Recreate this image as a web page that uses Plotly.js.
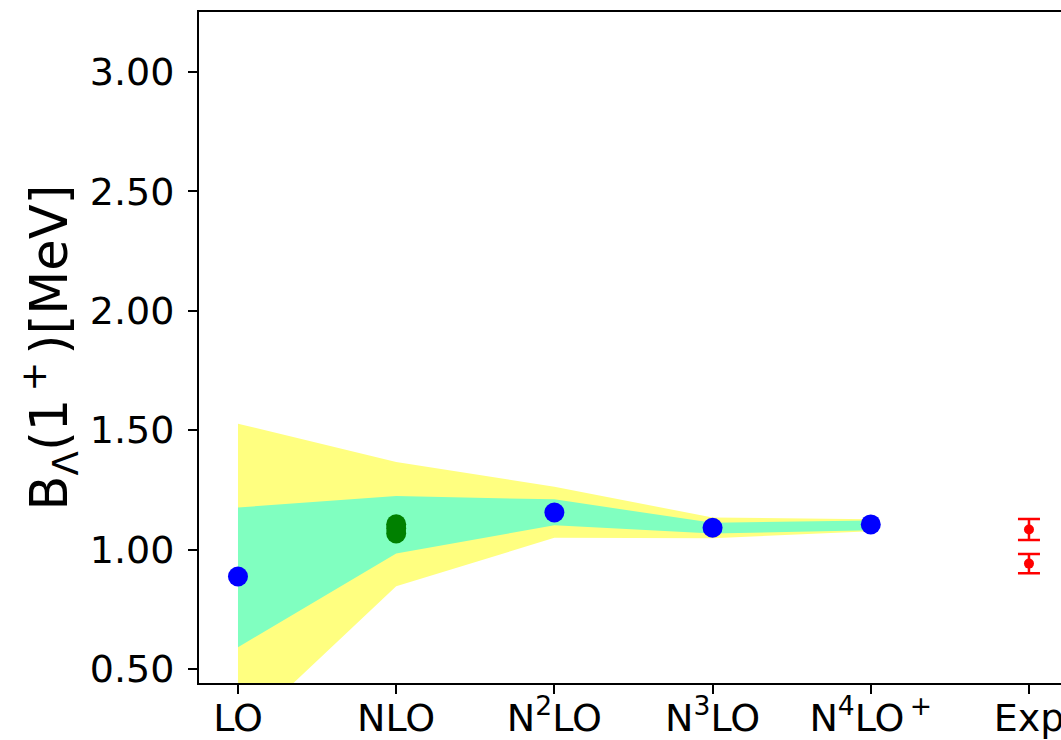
<!DOCTYPE html>
<html>
<head>
<meta charset="utf-8">
<script src="https://cdn.plot.ly/plotly-3.0.1.min.js"></script>
<style>
html, body { margin: 0; padding: 0; overflow: hidden; background: #fff; }
#chart { width: 1061px; height: 740px; }
</style>
</head>
<body>
<div id="chart"></div>
<script>
// Orders (x positions 0..5) and tick labels
const orders = [0, 1, 2, 3, 4, 5];
const orderLabels = ["LO", "NLO", "N<sup>2</sup>LO", "N<sup>3</sup>LO", "N<sup>4</sup>LO<sup>\u2009+</sup>", "Exp"];

// Uncertainty bands (LO .. N4LO+)
const bandX = [0, 1, 2, 3, 4];
const yellowUpper = [1.527, 1.366, 1.263, 1.134, 1.127];
const yellowLower = [0.222, 0.846, 1.049, 1.047, 1.077];
const greenUpper  = [1.176, 1.224, 1.210, 1.112, 1.121];
const greenLower  = [0.591, 0.983, 1.102, 1.067, 1.081];

// Blue central values
const blueX = [0, 2, 3, 4];
const blueY = [0.887, 1.155, 1.091, 1.105];

// Green NLO values
const nloX = [1, 1, 1];
const nloY = [1.106, 1.088, 1.067];

// Experimental values
const expX = [5, 5];
const expY = [1.084, 0.941];
const expErr = [0.044, 0.040];

function band(upper, lower) {
  return {
    x: bandX.concat(bandX.slice().reverse()),
    y: upper.concat(lower.slice().reverse())
  };
}

const yb = band(yellowUpper, yellowLower);
const gb = band(greenUpper, greenLower);

const traces = [
  { x: yb.x, y: yb.y, type: "scatter", mode: "lines", fill: "toself",
    fillcolor: "#ffff80", line: { width: 0, color: "rgba(0,0,0,0)" }, hoverinfo: "skip", showlegend: false },
  { x: gb.x, y: gb.y, type: "scatter", mode: "lines", fill: "toself",
    fillcolor: "#80ffc0", line: { width: 0, color: "rgba(0,0,0,0)" }, hoverinfo: "skip", showlegend: false },
  { x: nloX, y: nloY, type: "scatter", mode: "markers",
    marker: { color: "#008000", size: 20 }, showlegend: false },
  { x: blueX, y: blueY, type: "scatter", mode: "markers",
    marker: { color: "#0000ff", size: 20 }, showlegend: false },
  { x: expX, y: expY, type: "scatter", mode: "markers",
    marker: { color: "#ff0000", size: 10 },
    error_y: { type: "data", array: expErr, visible: true, color: "#ff0000", thickness: 2.5, width: 11 },
    showlegend: false }
];

const layout = {
  width: 1061,
  height: 740,
  margin: { l: 199, r: 0, t: 12, b: 57 },
  paper_bgcolor: "#ffffff",
  plot_bgcolor: "#ffffff",
  font: { family: "DejaVu Sans", color: "#000000" },
  xaxis: {
    range: [-0.2465, 5.2025],
    tickvals: orders,
    ticktext: orderLabels,
    showgrid: false,
    zeroline: false,
    showline: true,
    linecolor: "#000000",
    linewidth: 2,
    mirror: true,
    ticks: "outside",
    ticklen: 9,
    tickwidth: 2,
    tickcolor: "#000000",
    ticklabeloverflow: "allow",
    ticklabelstandoff: -9,
    tickfont: { size: 38, family: "DejaVu Sans" }
  },
  yaxis: {
    range: [0.441, 3.251],
    tickvals: [0.5, 1.0, 1.5, 2.0, 2.5, 3.0],
    tickformat: ".2f",
    showgrid: false,
    zeroline: false,
    showline: true,
    linecolor: "#000000",
    linewidth: 2,
    ticks: "outside",
    ticklen: 9,
    tickwidth: 2,
    tickcolor: "#000000",
    ticklabelstandoff: 6,
    tickfont: { size: 38, family: "DejaVu Sans" },
    title: { text: "B<sub>Λ</sub>(1<sup>\u2009+\u2009</sup>)[MeV]", font: { size: 51, family: "DejaVu Sans" }, standoff: 6 }
  }
};

Plotly.newPlot("chart", traces, layout, { displayModeBar: false, staticPlot: true });
</script>
</body>
</html>
